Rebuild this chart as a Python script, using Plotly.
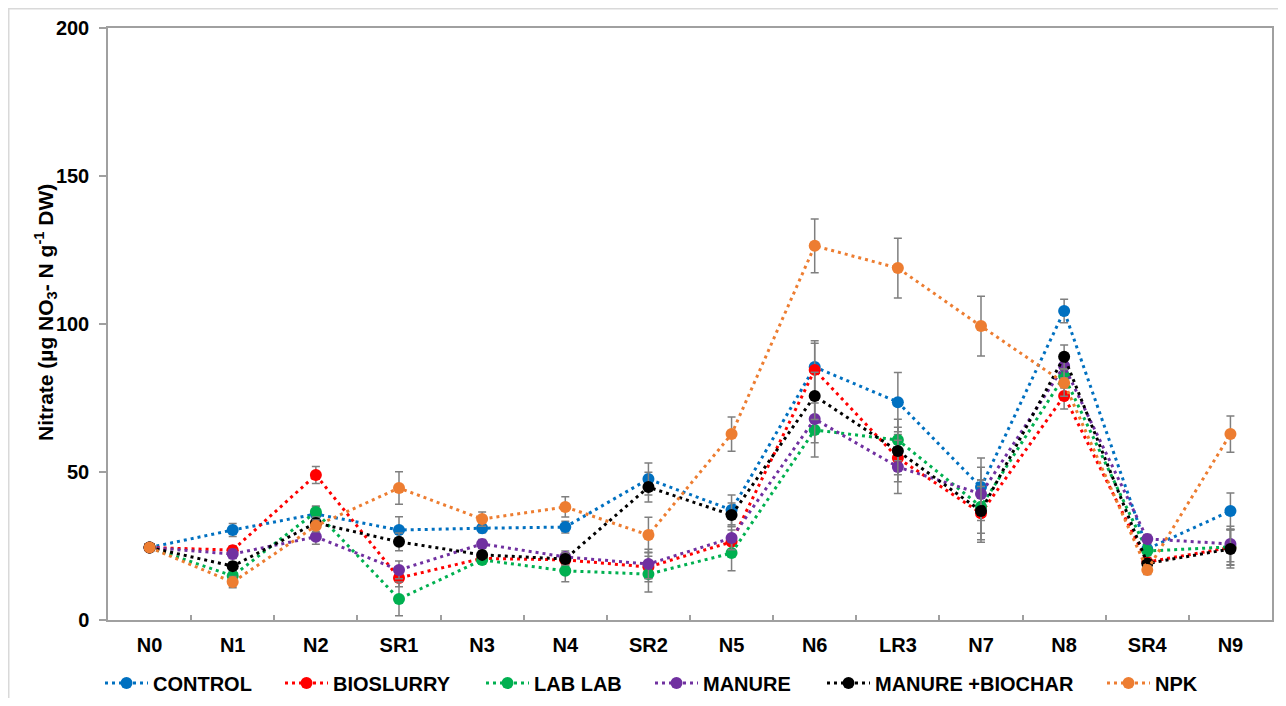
import plotly.graph_objects as go

categories = ["N0", "N1", "N2", "SR1", "N3", "N4", "SR2", "N5", "N6", "LR3", "N7", "N8", "SR4", "N9"]

control = [24.5, 30.4, 35.8, 30.4, 31.0, 31.4, 47.6, 37.2, 85.5, 73.6, 44.9, 104.4, 24.0, 36.8]
bioslurry = [24.5, 23.6, 49.0, 14.2, 20.8, 20.3, 17.9, 26.4, 84.5, 54.7, 36.1, 75.7, 19.6, 24.5]
lablab = [24.5, 14.9, 36.5, 7.1, 20.3, 16.6, 15.5, 22.6, 64.2, 60.8, 38.3, 82.4, 23.3, 24.7]
manure = [24.5, 22.3, 28.1, 16.9, 25.7, 21.3, 18.9, 27.7, 67.9, 51.7, 42.6, 85.8, 27.4, 25.7]
manure_biochar = [24.5, 18.2, 32.8, 26.4, 22.0, 20.6, 44.9, 35.5, 75.7, 57.1, 36.8, 88.9, 19.1, 24.0]
npk = [24.5, 12.8, 31.8, 44.6, 34.1, 38.2, 28.7, 62.8, 126.4, 118.9, 99.3, 80.1, 16.9, 62.8]

control_err = [0, 2.2, 2.5, 4.5, 1.5, 2.0, 5.4, 5.0, 8.8, 10.0, 9.8, 4.0, 1.5, 6.1]
bioslurry_err = [0, 1.5, 2.9, 3.0, 1.5, 2.0, 5.0, 4.0, 9.0, 8.0, 9.0, 4.4, 1.5, 6.0]
lablab_err = [0, 1.5, 2.0, 5.7, 1.5, 3.7, 6.0, 6.0, 9.1, 7.0, 9.0, 4.0, 1.5, 6.0]
manure_err = [0, 1.5, 2.5, 3.0, 1.5, 2.0, 5.0, 4.0, 8.0, 9.0, 9.0, 4.0, 1.5, 6.0]
manure_biochar_err = [0, 1.5, 2.0, 3.0, 1.5, 2.0, 5.0, 4.0, 8.0, 8.0, 10.5, 4.0, 1.5, 6.4]
npk_err = [0, 1.9, 2.0, 5.5, 2.4, 3.4, 6.0, 5.8, 9.1, 10.1, 10.1, 4.5, 1.5, 6.1]

series = [
    ("CONTROL", control, control_err, "#0070C0"),
    ("BIOSLURRY", bioslurry, bioslurry_err, "#FF0000"),
    ("LAB LAB", lablab, lablab_err, "#00B050"),
    ("MANURE", manure, manure_err, "#7030A0"),
    ("MANURE +BIOCHAR", manure_biochar, manure_biochar_err, "#000000"),
    ("NPK", npk, npk_err, "#ED7D31"),
]

FONT = "Liberation Sans, Arial, sans-serif"

# figure is placed inside the page body (8px margin)
W, H = 1270, 690
L, R, T, B = 100, 6, 20, 78
pw = W - L - R
ph = H - T - B

# left edge (figure px) of each legend entry
legend_left = [92, 272, 473, 642, 814, 1094]
legend_y = (ph - (675 - T)) / ph

fig = go.Figure()
layout_legends = {}
for i, (name, vals, errs, color) in enumerate(series):
    lname = "legend" if i == 0 else f"legend{i + 1}"
    fig.add_trace(go.Scatter(
        x=categories, y=vals, name=name, mode="lines+markers",
        legend=lname,
        line=dict(color=color, width=3, dash="3px,4px"),
        marker=dict(color=color, size=12, line=dict(width=0)),
        error_y=dict(type="data", array=errs, visible=True, color="#7f7f7f",
                     thickness=1.5, width=4),
    ))
    layout_legends[lname] = dict(
        orientation="h", x=(legend_left[i] - L) / pw, xanchor="left",
        y=legend_y, yanchor="middle",
        font=dict(family=FONT, size=20, color="black", weight="bold"),
        itemwidth=43, bgcolor="rgba(0,0,0,0)",
    )

fig.update_layout(
    width=W, height=H,
    margin=dict(l=L, r=R, t=T, b=B, autoexpand=False),
    paper_bgcolor="white", plot_bgcolor="white",
    font=dict(family=FONT, size=20, color="black"),
    showlegend=True,
    xaxis=dict(
        type="category", range=[-0.5, len(categories) - 0.5],
        showline=True, linecolor="#a0a0a0", linewidth=1.5, mirror=True,
        showgrid=False, zeroline=False,
        ticks="inside", ticklen=5, tickcolor="#a0a0a0", tickwidth=1.5,
        tickson="boundaries",
        tickfont=dict(family=FONT, size=20, color="black", weight="bold"),
        ticklabelstandoff=6,
    ),
    yaxis=dict(
        range=[0, 200], tickvals=[0, 50, 100, 150, 200],
        showline=True, linecolor="#a0a0a0", linewidth=1.5, mirror=True,
        showgrid=False, zeroline=False,
        ticks="outside", ticklen=7, tickcolor="#a0a0a0", tickwidth=1.5,
        tickfont=dict(family=FONT, size=20, color="black", weight="bold"),
        ticklabelstandoff=6,
    ),
    annotations=[dict(
        text="Nitrate (µg NO<sub>3</sub>- N g<sup>-1</sup> DW)",
        xref="paper", yref="paper", x=(37 - L) / pw, y=(ph - (305 - T)) / ph,
        xanchor="center", yanchor="middle", textangle=-90, showarrow=False,
        font=dict(family=FONT, size=21, color="black", weight="bold"),
    )],
    shapes=[dict(
        type="rect", xref="paper", yref="paper",
        x0=(0.75 - L) / pw, x1=(W + 20 - L) / pw,
        y0=-(H + 20 - T - ph) / ph, y1=(ph + T - 0.75) / ph,
        line=dict(color="#d9d9d9", width=1.5), fillcolor="rgba(0,0,0,0)",
        layer="below",
    )],
    **layout_legends,
)

fig.write_html("out.html")
